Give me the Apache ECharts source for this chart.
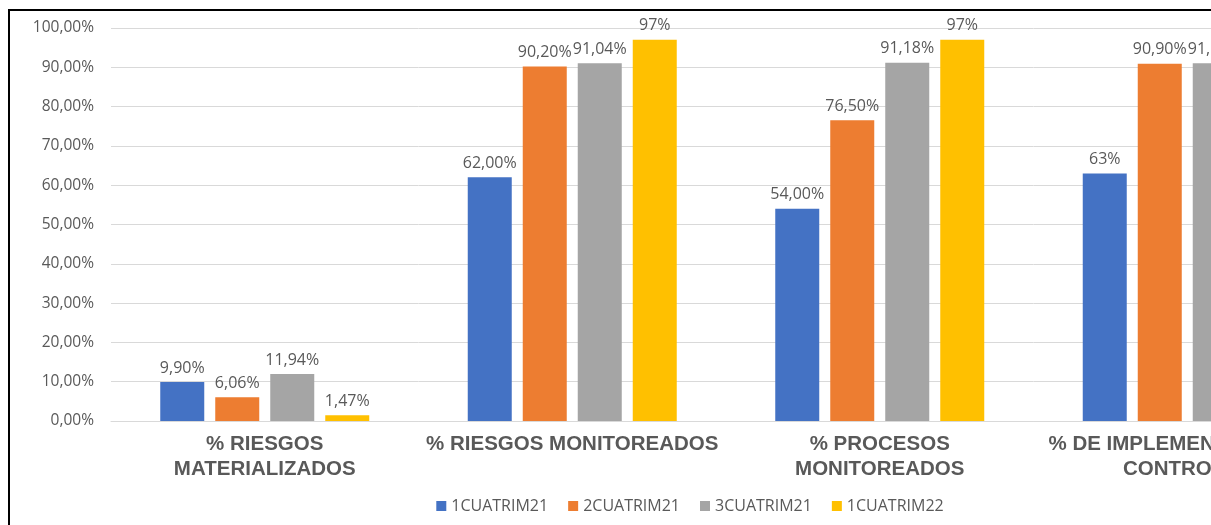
<!DOCTYPE html>
<html>
<head>
<meta charset="utf-8">
<script src="https://cdn.jsdelivr.net/npm/echarts@6/dist/echarts.min.js"></script>
<style>
html,body{margin:0;padding:0;background:#fff;overflow:hidden;width:1211px;height:525px;}
#chart{position:absolute;left:0;top:0;width:1380px;height:525px;}
</style>
</head>
<body>
<div id="chart"></div>
<script>
const categories = ['% RIESGOS\nMATERIALIZADOS', '% RIESGOS MONITOREADOS', '% PROCESOS\nMONITOREADOS', '% DE IMPLEMENTACIÓN DE\nCONTROLES'];
const seriesNames = ['1CUATRIM21', '2CUATRIM21', '3CUATRIM21', '1CUATRIM22'];
const s1Values = [0.099, 0.62, 0.54, 0.63];
const s2Values = [0.0606, 0.902, 0.765, 0.909];
const s3Values = [0.1194, 0.9104, 0.9118, 0.9104];
const s4Values = [0.0147, 0.97, 0.97, 0.97];
const s1Labels = ['9,90%', '62,00%', '54,00%', '63%'];
const s2Labels = ['6,06%', '90,20%', '76,50%', '90,90%'];
const s3Labels = ['11,94%', '91,04%', '91,18%', '91,04%'];
const s4Labels = ['1,47%', '97%', '97%', '97%'];
const colors = ['#4472C4', '#ED7D31', '#A5A5A5', '#FFC000'];

const allValues = [s1Values, s2Values, s3Values, s4Values];
const allLabels = [s1Labels, s2Labels, s3Labels, s4Labels];

const chart = echarts.init(document.getElementById('chart'));
const series = seriesNames.map((name, i) => ({
  name: name,
  type: 'bar',
  data: allValues[i],
  barWidth: 44,
  barGap: '25%',
  itemStyle: { color: colors[i] },
  label: {
    show: true,
    position: 'top',
    distance: 6,
    color: '#595959',
    fontSize: 16,
    fontFamily: 'Open Sans',
    formatter: p => allLabels[i][p.dataIndex]
  }
}));

chart.setOption({
  animation: false,
  color: colors,
  grid: { left: 111, right: 39, top: 28, bottom: 104, containLabel: false },
  legend: {
    data: seriesNames,
    bottom: 6,
    left: 'center',
    itemWidth: 10,
    itemHeight: 10,
    itemGap: 20,
    icon: 'rect',
    textStyle: { color: '#595959', fontSize: 16, fontFamily: 'Open Sans' }
  },
  xAxis: {
    type: 'category',
    data: categories,
    axisLine: { lineStyle: { color: '#D9D9D9', width: 1 } },
    axisTick: { show: false },
    axisLabel: {
      interval: 0,
      margin: 11,
      color: '#595959',
      fontSize: 20.5,
      fontWeight: 'bold',
      fontFamily: 'Liberation Sans',
      lineHeight: 25
    }
  },
  yAxis: {
    type: 'value',
    min: 0,
    max: 1,
    interval: 0.1,
    axisLine: { show: false },
    axisTick: { show: false },
    splitLine: { lineStyle: { color: '#D9D9D9', width: 1 } },
    axisLabel: {
      margin: 17,
      color: '#595959',
      fontSize: 15.5,
      fontFamily: 'Open Sans',
      formatter: v => (v * 100).toFixed(2).replace('.', ',') + '%'
    }
  },
  graphic: [
    { type: 'rect', shape: { x: 8, y: 9, width: 2, height: 520 }, style: { fill: '#000' }, z: 100 },
    { type: 'rect', shape: { x: 8, y: 9, width: 1380, height: 2 }, style: { fill: '#000' }, z: 100 }
  ],
  series: series
});
</script>
</body>
</html>
